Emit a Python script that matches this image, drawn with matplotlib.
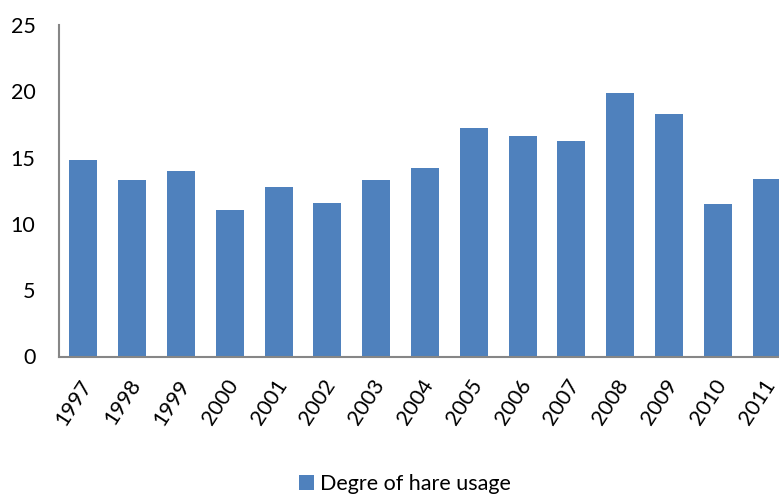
import matplotlib
matplotlib.use("Agg")
import matplotlib.pyplot as plt
import matplotlib.transforms as mtransforms
import numpy as np

plt.rcParams['font.family'] = ['Lato', 'DejaVu Sans']

years = ['1997', '1998', '1999', '2000', '2001', '2002', '2003', '2004',
         '2005', '2006', '2007', '2008', '2009', '2010', '2011']
usage = [14.82, 13.31, 13.99, 11.05, 12.78, 11.58, 13.29, 14.21,
         17.21, 16.63, 16.23, 19.87, 18.29, 11.50, 13.41]
yticks = [0, 5, 10, 15, 20, 25]
series_label = 'Degre of hare usage'

W, H = 779, 495
fig = plt.figure(figsize=(W / 100, H / 100), dpi=100)
ax = fig.add_axes([59 / W, 1 - 356.5 / H, (791 - 59) / W, (356.5 - 25) / H])

x = np.arange(len(years))
ax.bar(x, usage, width=0.574, color='#4F81BD', label=series_label, zorder=2)

ax.set_xlim(-0.5, len(years) - 0.5)
ax.set_ylim(0, 25)
ax.set_yticks(yticks)
ax.set_xticks(x)
ax.set_xticklabels(years, rotation=57, ha='right', va='center',
                   rotation_mode='anchor')
ax.tick_params(axis='both', length=0, labelsize=15.5, colors='black')
ax.tick_params(axis='x', pad=18)
ax.tick_params(axis='y', pad=17)

# nudge the slanted year labels slightly to the right
shift = mtransforms.ScaledTranslation(4 / 100, 0, fig.dpi_scale_trans)
for lbl in ax.get_xticklabels():
    lbl.set_transform(lbl.get_transform() + shift)

for side in ('top', 'right'):
    ax.spines[side].set_visible(False)
for side in ('left', 'bottom'):
    ax.spines[side].set_color('#868686')
    ax.spines[side].set_linewidth(1.5)

fig.legend(loc='center', bbox_to_anchor=(405 / W, 1 - 484 / H), frameon=False,
           fontsize=15.5, handlelength=0.7, handleheight=0.7, handletextpad=0.3)

fig.savefig('out.png', dpi=100)
